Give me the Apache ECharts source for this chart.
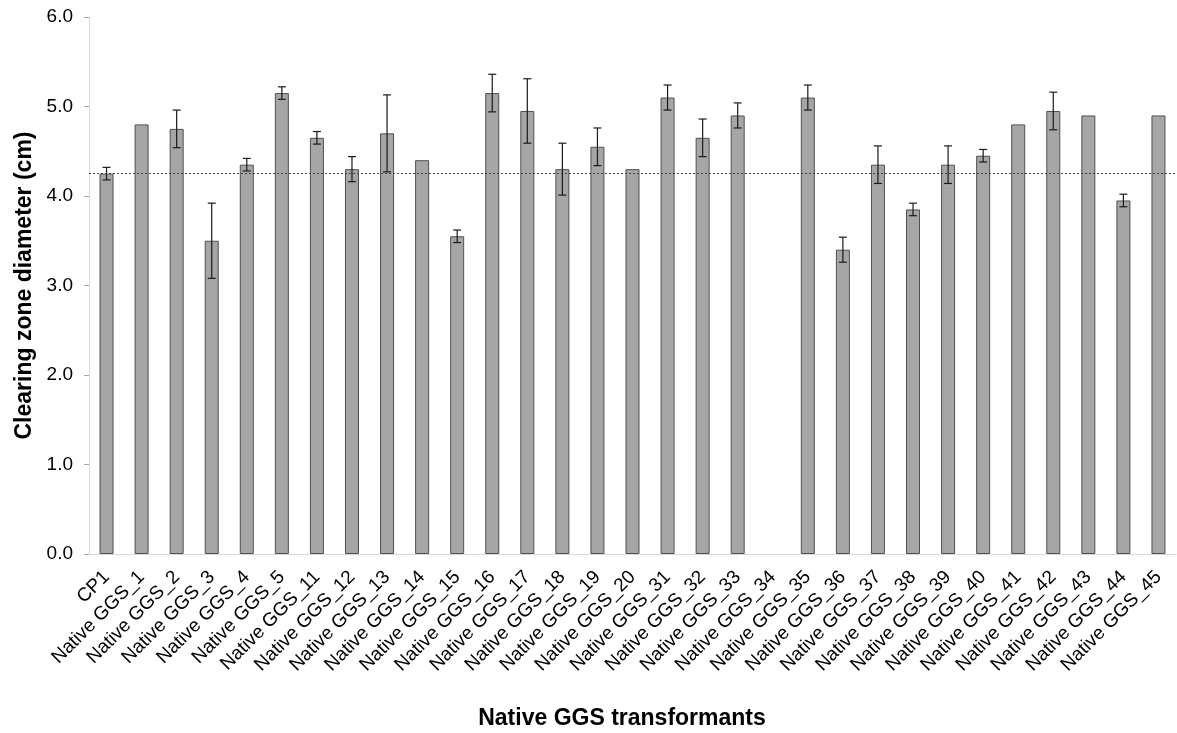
<!DOCTYPE html>
<html>
<head>
<meta charset="utf-8">
<script src="https://cdn.jsdelivr.net/npm/echarts@6/dist/echarts.min.js"></script>
<style>
html,body{margin:0;padding:0;background:#fff;}
#c{width:1177px;height:733px;}
</style>
</head>
<body>
<div id="c"></div>
<script>
const categories = ["CP1","Native GGS_1","Native GGS_2","Native GGS_3","Native GGS_4","Native GGS_5","Native GGS_11","Native GGS_12","Native GGS_13","Native GGS_14","Native GGS_15","Native GGS_16","Native GGS_17","Native GGS_18","Native GGS_19","Native GGS_20","Native GGS_31","Native GGS_32","Native GGS_33","Native GGS_34","Native GGS_35","Native GGS_36","Native GGS_37","Native GGS_38","Native GGS_39","Native GGS_40","Native GGS_41","Native GGS_42","Native GGS_43","Native GGS_44","Native GGS_45"];
const values = [4.25,4.80,4.75,3.50,4.35,5.15,4.65,4.30,4.70,4.40,3.55,5.15,4.95,4.30,4.55,4.30,5.10,4.65,4.90,null,5.10,3.40,4.35,3.85,4.35,4.45,4.80,4.95,4.90,3.95,4.90];
const errors = [0.07,0,0.21,0.42,0.07,0.07,0.07,0.14,0.43,0,0.07,0.21,0.36,0.29,0.21,0,0.14,0.21,0.14,0,0.14,0.14,0.21,0.07,0.21,0.07,0,0.21,0,0.07,0];
const referenceValue = 4.25;

const errData = [];
categories.forEach((c,i)=>{
  if (values[i] != null && errors[i] > 0) errData.push([i, values[i]-errors[i], values[i]+errors[i]]);
});

const chart = echarts.init(document.getElementById('c'));
chart.setOption({
  animation:false,
  backgroundColor:'#fff',
  grid:{left:89,right:1,top:17,bottom:179,containLabel:false},
  xAxis:{
    type:'category',
    data:categories,
    axisLine:{lineStyle:{color:'#d9d9d9',width:1}},
    axisTick:{show:false},
    axisLabel:{rotate:45,fontFamily:'Liberation Sans, Arial',fontSize:19,color:'#000',margin:20,interval:0}
  },
  yAxis:{
    type:'value',min:0,max:6,interval:1,
    name:'Clearing zone diameter (cm)',
    nameLocation:'middle',nameGap:52,
    nameTextStyle:{fontFamily:'Liberation Sans, Arial',fontSize:23,fontWeight:'bold',color:'#000'},
    axisLine:{show:true,lineStyle:{color:'#d9d9d9',width:1}},
    axisTick:{show:true,length:5,lineStyle:{color:'#a6a6a6'}},
    splitLine:{show:false},
    axisLabel:{formatter:v=>v.toFixed(1),fontFamily:'Liberation Sans, Arial',fontSize:19,color:'#000',margin:16}
  },
  graphic:[{
    type:'text',x:622,y:719,
    style:{text:'Native GGS transformants',font:'bold 23px "Liberation Sans", Arial',fill:'#000',align:'center',verticalAlign:'middle'}
  }],
  series:[
    {
      type:'bar',data:values,barWidth:14,
      itemStyle:{color:'#a6a6a6',borderColor:'#505050',borderWidth:1},
      markLine:{
        silent:true,symbol:['none','none'],label:{show:false},
        lineStyle:{type:[2,2],color:'#404040',width:1},
        data:[{yAxis:referenceValue}]
      }
    },
    {
      type:'custom',data:errData,z:5,
      renderItem:function(params,api){
        const x = api.value(0);
        const lo = api.coord([x, api.value(1)]);
        const hi = api.coord([x, api.value(2)]);
        const hw = 4;
        const st = {stroke:'#1a1a1a',lineWidth:1.2};
        return {type:'group',children:[
          {type:'line',shape:{x1:hi[0],y1:hi[1],x2:lo[0],y2:lo[1]},style:st},
          {type:'line',shape:{x1:hi[0]-hw,y1:hi[1],x2:hi[0]+hw,y2:hi[1]},style:st},
          {type:'line',shape:{x1:lo[0]-hw,y1:lo[1],x2:lo[0]+hw,y2:lo[1]},style:st}
        ]};
      }
    }
  ]
});
</script>
</body>
</html>
